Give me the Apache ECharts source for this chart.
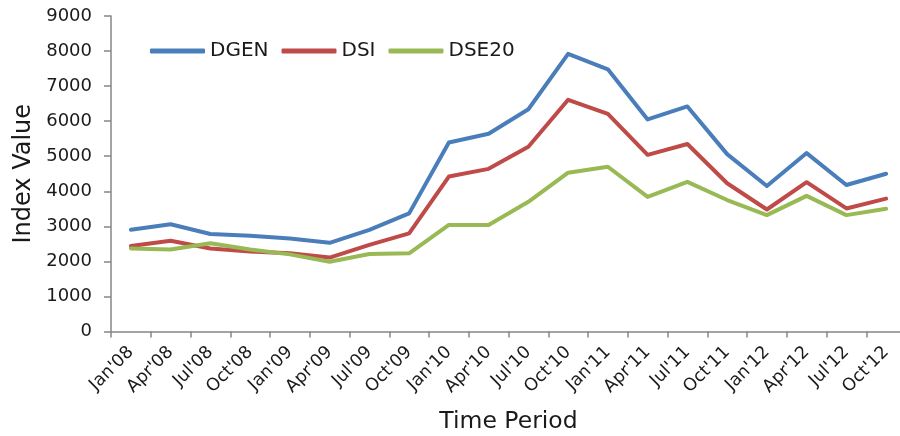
<!DOCTYPE html>
<html>
<head>
<meta charset="utf-8">
<script src="https://cdn.jsdelivr.net/npm/echarts@6/dist/echarts.min.js"></script>
<style>html,body{margin:0;padding:0;background:#fff}#c{width:900px;height:436px}</style>
</head>
<body>
<div id="c"></div>
<script>
const categories = ["Jan'08","Apr'08","Jul'08","Oct'08","Jan'09","Apr'09","Jul'09","Oct'09","Jan'10","Apr'10","Jul'10","Oct'10","Jan'11","Apr'11","Jul'11","Oct'11","Jan'12","Apr'12","Jul'12","Oct'12"];
const dgen = [2900,3060,2780,2730,2650,2530,2900,3370,5390,5640,6340,7920,7480,6050,6420,5060,4150,5090,4180,4500];
const dsi = [2440,2590,2370,2280,2230,2110,2470,2800,4420,4640,5270,6610,6210,5040,5350,4230,3480,4260,3510,3790];
const dse20 = [2370,2340,2520,2340,2200,1990,2210,2230,3040,3040,3700,4530,4700,3840,4270,3750,3320,3870,3320,3500];
const yTicks = [0,1000,2000,3000,4000,5000,6000,7000,8000,9000];
const seriesNames = ["DGEN","DSI","DSE20"];
const colors = ["#4A7EBB","#BE4B48","#98B954"];

const font = "DejaVu Sans, sans-serif";
const txt = '#1a1a1a';
const chart = echarts.init(document.getElementById('c'), null, {renderer:'canvas'});
const axisGray = '#868686';
chart.setOption({
  animation:false,
  backgroundColor:'#fff',
  color: colors,
  legend:{
    left:145, top:36, itemWidth:55, itemHeight:5, itemGap:13, icon:'roundRect',
    textStyle:{fontFamily:font,fontSize:20,color:txt},
    data: seriesNames
  },
  grid:{left:111, top:16, width:795, height:315.5, containLabel:false, outerBoundsMode:'none'},
  xAxis:{
    type:'category', data:categories, boundaryGap:true,
    name:'Time Period', nameLocation:'middle', nameGap:78,
    nameTextStyle:{fontFamily:font,fontSize:23.5,color:txt},
    axisLine:{lineStyle:{color:axisGray,width:1.5}},
    axisTick:{show:true,length:6,interval:0,lineStyle:{color:axisGray,width:1.5}},
    axisLabel:{interval:0,rotate:45,fontFamily:font,fontSize:17.5,color:txt,margin:18},
    splitLine:{show:false}
  },
  yAxis:{
    type:'value', min:yTicks[0], max:yTicks[yTicks.length-1], interval:1000,
    name:'Index Value', nameLocation:'middle', nameGap:73,
    nameTextStyle:{fontFamily:font,fontSize:24,color:txt},
    axisLine:{show:true,lineStyle:{color:axisGray,width:1.5}},
    axisTick:{show:true,length:7,lineStyle:{color:axisGray,width:1.5}},
    axisLabel:{fontFamily:font,fontSize:18,color:txt,margin:19,formatter:v=>String(v)},
    splitLine:{show:false}
  },
  series:[dgen,dsi,dse20].map((d,i)=>({
    name:seriesNames[i], type:'line', data:d, symbol:'none', smooth:false,
    lineStyle:{width:4,color:colors[i],cap:'round',join:'round'},
    itemStyle:{color:colors[i]}
  }))
});
</script>
</body>
</html>
